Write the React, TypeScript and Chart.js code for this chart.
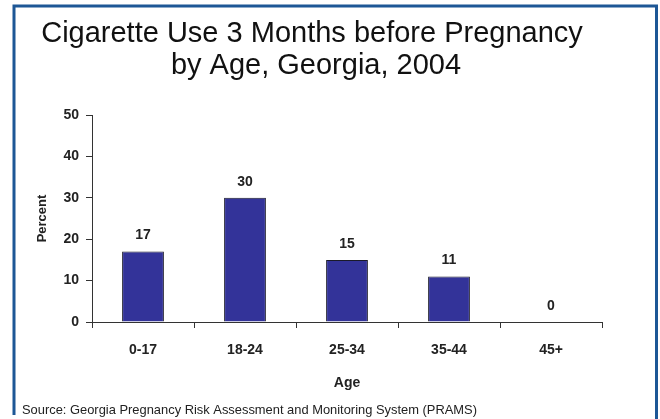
import React, { useEffect, useRef } from "react";
import { Chart, registerables } from "chart.js";

Chart.register(...registerables);

const categories = ["0-17", "18-24", "25-34", "35-44", "45+"];
const percentValues = [17, 30, 15, 11, 0];
const yTicks = [0, 10, 20, 30, 40, 50];
const titleLines = ["Cigarette Use 3 Months before Pregnancy", "by Age, Georgia, 2004"];
const xAxisTitle = "Age";
const yAxisTitle = "Percent";
const sourceText = "Source: Georgia Pregnancy Risk Assessment and Monitoring System (PRAMS)";

const FONT = "'Liberation Sans', Arial, Helvetica, sans-serif";

const decorPlugin = {
  id: "decor",
  beforeDraw(chart: any) {
    const ctx = chart.ctx;
    ctx.save();
    ctx.fillStyle = "#ffffff";
    ctx.fillRect(0, 0, chart.width, chart.height);
    ctx.strokeStyle = "#1d5796";
    ctx.lineWidth = 3;
    ctx.beginPath();
    ctx.moveTo(14, 415);
    ctx.lineTo(14, 6);
    ctx.lineTo(656.5, 6);
    ctx.lineTo(656.5, 419);
    ctx.stroke();
    ctx.restore();
  },
  afterDraw(chart: any) {
    const ctx = chart.ctx;
    ctx.save();
    ctx.fillStyle = "#111111";
    ctx.font = `29px ${FONT}`;
    ctx.textAlign = "center";
    ctx.textBaseline = "alphabetic";
    ctx.fillText(titleLines[0], 312, 42);
    ctx.fillText(titleLines[1], 316, 74);

    ctx.font = `12.9px ${FONT}`;
    ctx.textAlign = "left";
    ctx.textBaseline = "middle";
    ctx.fillStyle = "#222222";
    ctx.fillText(sourceText, 22, 410);

    // value labels
    const meta = chart.getDatasetMeta(0);
    ctx.font = `bold 14px ${FONT}`;
    ctx.textAlign = "center";
    ctx.textBaseline = "middle";
    ctx.fillStyle = "#222222";
    meta.data.forEach((bar: any, i: number) => {
      ctx.fillText(String(percentValues[i]), bar.x, bar.y - 16);
    });
    ctx.restore();
  },
};

export default function App() {
  const canvasRef = useRef<HTMLCanvasElement | null>(null);

  useEffect(() => {
    document.body.style.margin = "0";
    const canvas = canvasRef.current;
    if (!canvas) return;
    const chart = new Chart(canvas, {
      type: "bar",
      data: {
        labels: categories,
        datasets: [
          {
            data: percentValues,
            backgroundColor: "#333399",
            borderColor: "#1a1a2a",
            borderWidth: 1,
            barPercentage: 0.41,
            categoryPercentage: 1,
          },
        ],
      },
      options: {
        responsive: false,
        animation: false,
        devicePixelRatio: 1,
        layout: { padding: { left: 14, right: 58, top: 115, bottom: 20 } },
        plugins: {
          legend: { display: false },
          title: { display: false },
          tooltip: { enabled: false },
        },
        scales: {
          x: {
            afterFit(scale: any) {
              scale.height = 77;
            },
            grid: {
              offset: true,
              drawOnChartArea: false,
              drawTicks: true,
              tickLength: 6,
              color: "#333333",
            },
            border: { display: true, color: "#333333", width: 1 },
            ticks: {
              color: "#222222",
              font: { family: FONT, size: 14, weight: "bold" },
              padding: 14,
            },
            title: {
              display: true,
              text: xAxisTitle,
              color: "#222222",
              font: { family: FONT, size: 14, weight: "bold" },
              padding: { top: 0, bottom: 7 },
            },
          },
          y: {
            min: yTicks[0],
            max: yTicks[yTicks.length - 1],
            afterFit(scale: any) {
              scale.width = 78;
            },
            afterBuildTicks(scale: any) {
              scale.ticks = yTicks.map((v) => ({ value: v }));
            },
            grid: {
              drawOnChartArea: false,
              drawTicks: true,
              tickLength: 6,
              color: "#333333",
            },
            border: { display: true, color: "#333333", width: 1 },
            ticks: {
              color: "#222222",
              font: { family: FONT, size: 14, weight: "bold" },
              padding: 7,
            },
            title: {
              display: true,
              text: yAxisTitle,
              color: "#222222",
              font: { family: FONT, size: 13, weight: "bold" },
              padding: { top: 21, bottom: 0 },
            },
          },
        },
      },
      plugins: [decorPlugin],
    });
    return () => chart.destroy();
  }, []);

  return (
    <div style={{ position: "fixed", left: 0, top: 0, width: 660, height: 419 }}>
      <canvas ref={canvasRef} width={660} height={419} style={{ display: "block" }} />
    </div>
  );
}
